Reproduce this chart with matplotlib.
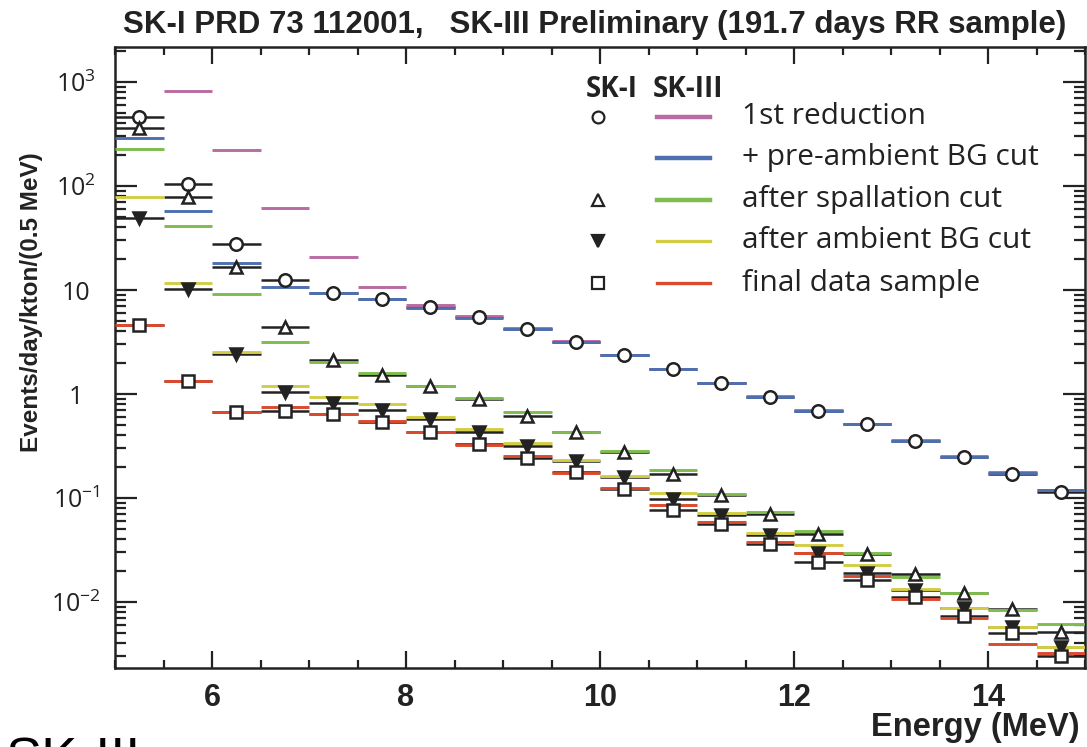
import numpy as np
import matplotlib.pyplot as plt
from matplotlib.ticker import MultipleLocator, LogLocator, FixedLocator, FixedFormatter, NullFormatter

plt.rcParams['mathtext.fontset'] = 'custom'
plt.rcParams['mathtext.rm'] = 'Open Sans'
plt.rcParams['mathtext.it'] = 'Open Sans'

# energy bins, 0.5 MeV wide
edges = np.arange(5.0, 15.01, 0.5)
centers = edges[:-1] + 0.25

# SK-I (points)
sk1_first = [458, 104, 27.7, 12.5, 9.42, 8.13, 6.8, 5.46, 4.22, 3.18,
             2.36, 1.73, 1.27, 0.94, 0.687, 0.51, 0.353, 0.249, 0.17, 0.115]
sk1_spall = [359, 78.9, 16.6, 4.38, 2.12, 1.54, 1.19, 0.89, 0.62, 0.43,
             0.28, 0.17, 0.108, 0.071, 0.045, 0.029, 0.0185, 0.0121, 0.0085, 0.0052]
sk1_ambient = [49.6, 10.3, 2.41, 1.04, 0.826, 0.70, 0.571, 0.43, 0.318, 0.228,
               0.158, 0.0986, 0.069, 0.044, 0.0294, 0.0191, 0.013, 0.0087, 0.0058, 0.0037]
sk1_final = [4.6, 1.34, 0.67, 0.69, 0.643, 0.54, 0.43, 0.328, 0.245, 0.177,
             0.123, 0.0767, 0.056, 0.036, 0.0244, 0.0163, 0.0112, 0.0073, 0.005, 0.00303]

# SK-III (histogram lines)
sk3_first = [2500, 826, 222, 61, 20.6, 10.6, 7.18, 5.62, 4.3, 3.25,
             2.4, 1.76, 1.29, 0.95, 0.70, 0.515, 0.36, 0.253, 0.178, 0.12]
sk3_preamb = [292, 57.5, 18.2, 10.8, 9.4, 8.13, 6.67, 5.4, 4.2, 3.18,
              2.36, 1.73, 1.27, 0.94, 0.69, 0.51, 0.353, 0.249, 0.175, 0.119]
sk3_spall = [228, 41.5, 9.1, 3.18, 2.02, 1.58, 1.19, 0.92, 0.667, 0.434,
             0.285, 0.187, 0.11, 0.074, 0.0485, 0.0298, 0.0173, 0.0121, 0.0084, 0.0061]
sk3_ambient = [78, 11.75, 2.52, 1.2, 0.93, 0.80, 0.597, 0.464, 0.340, 0.232,
               0.164, 0.112, 0.072, 0.0465, 0.0356, 0.0227, 0.0132, 0.0088, 0.0058, 0.0037]
sk3_final = [4.6, 1.34, 0.676, 0.755, 0.65, 0.554, 0.43, 0.326, 0.255, 0.174,
             0.125, 0.0863, 0.059, 0.0375, 0.0294, 0.0179, 0.0107, 0.00706, 0.00395, 0.00326]

labels = ['1st reduction', '+ pre-ambient BG cut', 'after spallation cut',
          'after ambient BG cut', 'final data sample']
sk3_colors = ['#b96ba3', '#4e70ae', '#7fbd4e', '#d3cd45', '#dc4a2e']
sk3_series = [sk3_first, sk3_preamb, sk3_spall, sk3_ambient, sk3_final]
sk1_series = [sk1_first, None, sk1_spall, sk1_ambient, sk1_final]
sk1_markers = ['o', None, '^', 'v', 's']

ytick_vals = [1e-2, 1e-1, 1, 10, 1e2, 1e3]
ytick_labels = ['$10^{-2}$', '$10^{-1}$', '1', '10', '$10^{2}$', '$10^{3}$']

ink = '#222222'
bold_font = 'Liberation Sans'
W, H = 1087, 747
fig = plt.figure(figsize=(W / 100, H / 100), dpi=100)
ax = fig.add_axes([115 / W, 1 - 668 / H, 970 / W, (668 - 46.7) / H])

for vals in sk1_series:
    if vals is not None:
        ax.hlines(vals, edges[:-1], edges[1:], color=ink, lw=1.8, zorder=2)
for vals, c in zip(sk3_series, sk3_colors):
    ax.hlines(vals, edges[:-1], edges[1:], color=c, lw=2.1, zorder=3)
for vals, m in zip(sk1_series, sk1_markers):
    if vals is None:
        continue
    filled = m == 'v'
    ax.plot(centers, vals, ls='none', marker=m, ms=9 if m != 's' else 8.5,
            mfc=ink if filled else 'white', mec=ink, mew=1.8, zorder=4)

ax.set_xlim(5, 15)
ax.set_yscale('log')
ax.set_ylim(2.32e-3, 2.19e3)

ax.xaxis.set_major_locator(MultipleLocator(2))
ax.xaxis.set_minor_locator(MultipleLocator(0.5))
ax.yaxis.set_major_locator(FixedLocator(ytick_vals))
ax.yaxis.set_major_formatter(FixedFormatter(ytick_labels))
ax.yaxis.set_minor_locator(LogLocator(base=10, subs=np.arange(2, 10), numticks=100))
ax.yaxis.set_minor_formatter(NullFormatter())

ax.tick_params(which='both', direction='in', top=True, right=True, color=ink, width=1.6)
ax.tick_params(axis='x', which='major', length=12, pad=11)
ax.tick_params(axis='x', which='minor', length=6)
ax.tick_params(axis='y', which='major', length=16, pad=28)
ax.tick_params(axis='y', which='minor', length=8)
for sp in ax.spines.values():
    sp.set_linewidth(1.8)
    sp.set_color(ink)

for t in ax.get_xticklabels():
    t.set_fontfamily(bold_font)
    t.set_fontweight('bold')
    t.set_fontsize(22)
    t.set_color(ink)
for t in ax.get_yticklabels():
    t.set_fontfamily('Open Sans')
    t.set_fontsize(18)
    t.set_ha('center')
    t.set_color(ink)

fig.text(595 / W, 1 - 33 / H,
         'SK-I PRD 73 112001,   SK-III Preliminary (191.7 days RR sample)',
         ha='center', va='baseline', fontsize=22.5, fontweight='bold',
         family=bold_font, color=ink)
fig.text(1080 / W, 1 - 736 / H, 'Energy (MeV)', ha='right', va='baseline',
         fontsize=23.5, fontweight='bold', family=bold_font, color=ink)
fig.text(32 / W, 1 - 302 / H, 'Events/day/kton/(0.5 MeV)', rotation=90,
         ha='center', va='center', fontsize=17.5, fontweight='bold',
         family=bold_font, color=ink)
fig.text(6 / W, 1 - 776 / H, 'SK-III', ha='left', va='baseline', fontsize=39,
         family='Liberation Sans', color='black')

# legend, laid out by hand in figure pixels
fig.text(612 / W, 1 - 97 / H, 'SK-I', ha='center', va='baseline', fontsize=20,
         fontweight='bold', family='Open Sans', color=ink)
fig.text(688 / W, 1 - 97 / H, 'SK-III', ha='center', va='baseline', fontsize=20,
         fontweight='bold', family='Open Sans', color=ink)
row_y = [117, 158, 200, 241, 283]
for yy, lab, c, m in zip(row_y, labels, sk3_colors, sk1_markers):
    fy = 1 - yy / H
    if m is not None:
        fig.lines.append(plt.Line2D([598 / W], [fy], transform=fig.transFigure,
                                    marker=m, ms=8.5, mew=1.6, mec=ink,
                                    mfc=ink if m == 'v' else 'white', ls='none'))
    fig.lines.append(plt.Line2D([657 / W, 710 / W], [fy, fy], transform=fig.transFigure,
                                color=c, lw=3.2 if c in sk3_colors[:3] else 2.4))
    fig.text(742 / W, fy, lab, ha='left', va='center', fontsize=21.5,
             family='Open Sans', color=ink)

fig.savefig('out.png', dpi=100)
